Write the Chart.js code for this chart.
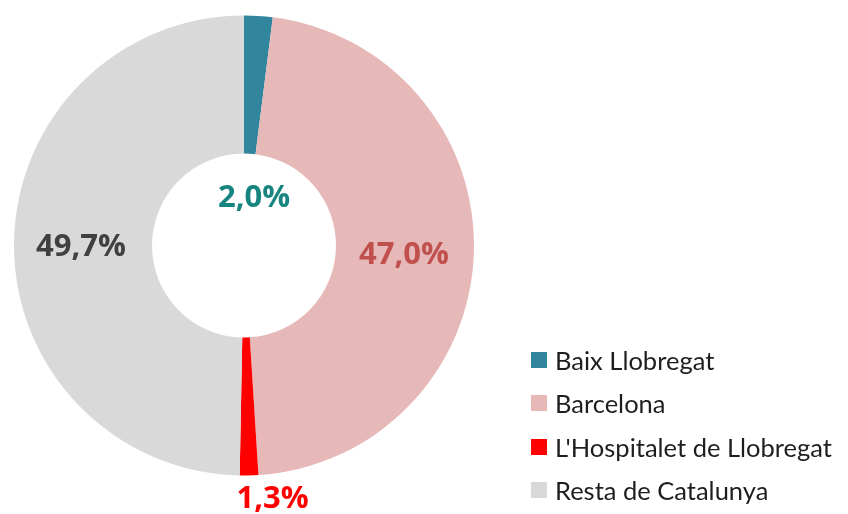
<!DOCTYPE html>
<html>
<head>
<meta charset="utf-8">
<script src="https://cdn.jsdelivr.net/npm/chart.js@4"></script>
<style>
  body { margin: 0; background: #fff; }
  #wrap { position: relative; width: 848px; height: 514px; }
  #legenda { position: absolute; left: 531px; top: 338px; font-family: Lato, sans-serif; font-size: 25.5px; color: #1e1e1e; }
  #legenda div { height: 43.5px; display: flex; align-items: center; }
  #legenda span.box { width: 16px; height: 16px; margin-right: 8px; display: inline-block; }
</style>
</head>
<body>
<div id="wrap">
  <canvas id="grafico" width="848" height="514"></canvas>
  <div id="legenda"></div>
</div>
<script>
// dades
const categories = ['Baix Llobregat', 'Barcelona', "L'Hospitalet de Llobregat", 'Resta de Catalunya'];
const valors = [2.0, 47.0, 1.3, 49.7];
const colors = ['#31859C', '#E6B9B8', '#FF0000', '#D9D9D9'];
const colorsEtiqueta = ['#17857F', '#C0504D', '#FF0000', '#404040'];

// posicio de les etiquetes: radi des del centre i desplaçament en x / y
const radiEtiqueta = [48, 160, 253, 163];
const dxEtiqueta = [7, 0, 23, 0];
const dyEtiqueta = [1, 5, 1, 3];

const etiquetes = {
    id: 'etiquetes',
    afterDatasetsDraw(chart) {
        const c = chart.ctx;
        const meta = chart.getDatasetMeta(0);
        c.save();
        c.font = 'bold 31px "Open Sans", sans-serif';
        c.textAlign = 'center';
        c.textBaseline = 'middle';
        meta.data.forEach(function (arc, i) {
            const angle = (arc.startAngle + arc.endAngle) / 2;
            const x = arc.x + Math.cos(angle) * radiEtiqueta[i] + dxEtiqueta[i];
            const y = arc.y + Math.sin(angle) * radiEtiqueta[i] + dyEtiqueta[i];
            c.fillStyle = colorsEtiqueta[i];
            c.fillText(valors[i].toFixed(1).replace('.', ',') + '%', x, y);
        });
        c.restore();
    }
};

const ctx = document.getElementById('grafico');

new Chart(ctx, {
    type: 'doughnut',
    data: {
        labels: categories,
        datasets: [{
            data: valors,
            backgroundColor: colors,
            borderWidth: 0
        }]
    },
    options: {
        responsive: false,
        animation: false,
        cutout: '40%',
        layout: {
            padding: { left: 14, top: 15, right: 374, bottom: 38 }
        },
        plugins: {
            legend: { display: false },
            tooltip: { enabled: false }
        }
    },
    plugins: [etiquetes]
});

// llegenda
let html = '';
categories.forEach(function (nom, i) {
    html += `<div><span class="box" style="background:${colors[i]}"></span>${nom}</div>`;
});
document.getElementById('legenda').innerHTML = html;
</script>
</body>
</html>
